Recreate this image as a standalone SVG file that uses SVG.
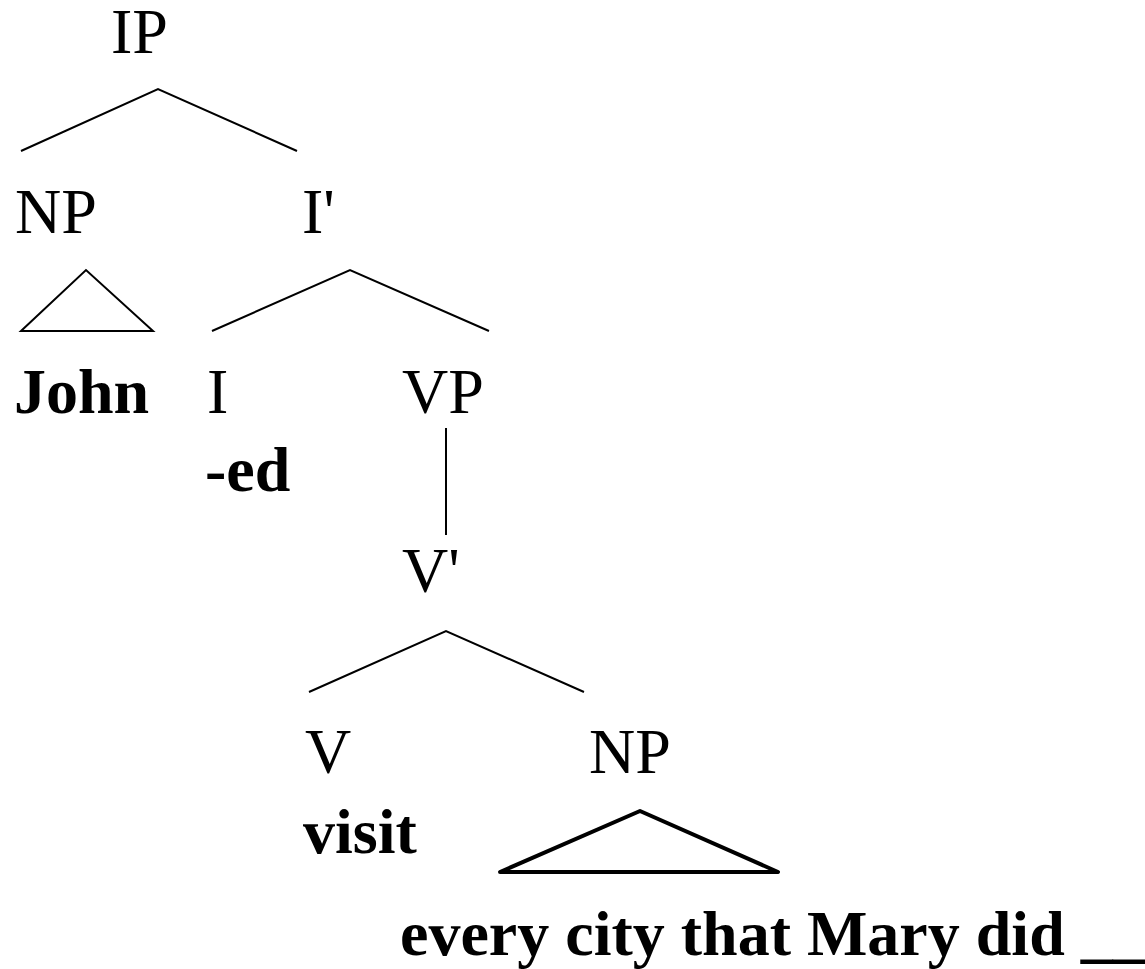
<svg xmlns="http://www.w3.org/2000/svg" width="1145" height="969" viewBox="0 0 1145 969">
<style>
text { font-family: "Liberation Serif", "Times New Roman", serif; font-size: 64px; fill: #000; }
.b { font-weight: bold; }
.ln { fill: none; stroke: #000; stroke-width: 2; stroke-linejoin: miter; }
.bold { fill: none; stroke: #000; stroke-width: 4; stroke-linejoin: round; }
</style>
<rect width="1145" height="969" fill="#fff"/>
<g id="connectors">
<polyline class="ln" points="21,151 158,89 297,151"/>
<polygon class="ln" points="21,331 86,270 153,331"/>
<polyline class="ln" points="212,331 350,270 489,331"/>
<line class="ln" x1="446" y1="428" x2="446" y2="535"/>
<polyline class="ln" points="309,692 446,631 584,692"/>
<polygon class="bold" points="500,872 640,811 778,872"/>
</g>
<g id="IP"><text x="111" y="53">IP</text></g>
<g id="NP1"><text x="15" y="233">NP</text></g>
<g id="Ibar"><text x="302" y="233">I'</text></g>
<g id="John"><text class="b" x="14" y="413">John</text></g>
<g id="I"><text x="207" y="413">I</text><text class="b" x="205" y="491">-ed</text></g>
<g id="VP"><text x="402" y="413">VP</text></g>
<g id="Vbar"><text x="402" y="592">V'</text></g>
<g id="V"><text x="305" y="773">V</text><text class="b" x="303" y="853">visit</text></g>
<g id="NP2"><text x="589" y="773">NP</text></g>
<g id="phrase"><text class="b" x="400" y="955">every city that Mary did __</text></g>
</svg>
